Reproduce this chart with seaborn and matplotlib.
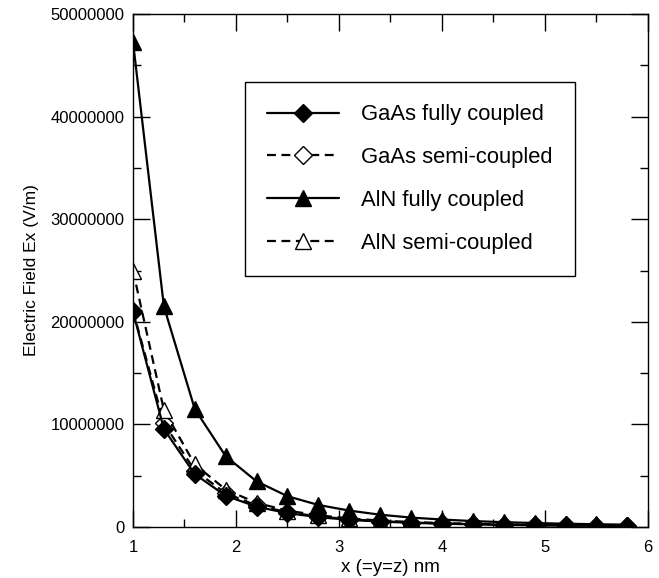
import numpy as np
import pandas as pd

import matplotlib
matplotlib.use('Agg')
import matplotlib.pyplot as plt
from matplotlib.ticker import MultipleLocator
import seaborn as sns

x_nm = [1.0, 1.3, 1.6, 1.9, 2.2, 2.5, 2.8, 3.1, 3.4, 3.7, 4.0, 4.3, 4.6, 4.9, 5.2, 5.5, 5.8]

gaas_full = [21.0, 9.55, 5.15, 3.05, 1.98, 1.35, 0.96, 0.70, 0.53, 0.41,
             0.32, 0.26, 0.21, 0.17, 0.14, 0.12, 0.10]
gaas_semi = [21.1, 10.1, 5.5, 3.3, 2.1, 1.45, 1.03, 0.76, 0.57, 0.44,
             0.35, 0.28, 0.22, 0.185, 0.155, 0.13, 0.11]
aln_full = [47.3, 21.5, 11.5, 6.9, 4.45, 3.0, 2.15, 1.6, 1.2, 0.92,
            0.73, 0.58, 0.47, 0.39, 0.32, 0.27, 0.23]
aln_semi = [25.0, 11.4, 6.1, 3.65, 2.35, 1.6, 1.14, 0.84, 0.63, 0.49,
            0.39, 0.31, 0.25, 0.20, 0.17, 0.14, 0.12]

labels = ['GaAs fully coupled', 'GaAs semi-coupled', 'AlN fully coupled', 'AlN semi-coupled']

sns.set_style('ticks')
plt.rcParams['font.family'] = ['Liberation Sans', 'DejaVu Sans']
plt.rcParams.update({
    'text.color': 'black',
    'axes.labelcolor': 'black',
    'xtick.color': 'black',
    'ytick.color': 'black',
})

df = pd.DataFrame({
    'x': x_nm,
    labels[0]: np.array(gaas_full) * 1e6,
    labels[1]: np.array(gaas_semi) * 1e6,
    labels[2]: np.array(aln_full) * 1e6,
    labels[3]: np.array(aln_semi) * 1e6,
})

fig = plt.figure(figsize=(6.59, 5.78), dpi=100)
ax = fig.add_axes([0.2018, 0.0882, 0.7815, 0.8875])

dash = (0, (4, 2.5))
styles = {
    labels[0]: dict(marker='D', markersize=9, markerfacecolor='black', linestyle='-'),
    labels[1]: dict(marker='D', markersize=9, markerfacecolor='white', linestyle=dash),
    labels[2]: dict(marker='^', markersize=11, markerfacecolor='black', linestyle='-'),
    labels[3]: dict(marker='^', markersize=11, markerfacecolor='white', linestyle=dash),
}

for name in [labels[1], labels[3], labels[0], labels[2]]:
    sns.lineplot(
        data=df,
        x='x',
        y=name,
        ax=ax,
        color='black',
        linewidth=1.6,
        markeredgecolor='black',
        markeredgewidth=1.0,
        label=name,
        **styles[name]
    )

ax.set_xlim(1, 6)
ax.set_ylim(0, 50000000)

ax.xaxis.set_major_locator(MultipleLocator(1))
ax.xaxis.set_minor_locator(MultipleLocator(0.5))
ax.yaxis.set_major_locator(MultipleLocator(10000000))
ax.yaxis.set_minor_locator(MultipleLocator(5000000))
ax.ticklabel_format(style='plain', axis='y', useOffset=False)

ax.tick_params(which='both', direction='in', top=True, right=True, width=1, colors='black', labelsize=12)
ax.tick_params(which='major', length=12, pad=6)
ax.tick_params(axis='x', which='major', pad=9)
ax.tick_params(which='minor', length=6)

for spine in ax.spines.values():
    spine.set_linewidth(1.0)
    spine.set_color('black')

ax.set_xlabel('x (=y=z) nm', fontsize=13.5, labelpad=3)
ax.set_ylabel('Electric Field Ex (V/m)', fontsize=12.5, labelpad=8)

handles, hlabels = ax.get_legend_handles_labels()
order = [hlabels.index(lbl) for lbl in labels]
leg = ax.legend(
    [handles[i] for i in order],
    [hlabels[i] for i in order],
    loc='upper left',
    bbox_to_anchor=(0.2175, 0.867),
    borderaxespad=0,
    fontsize=15.8,
    frameon=True,
    fancybox=False,
    edgecolor='black',
    framealpha=1,
    handlelength=3.3,
    handletextpad=1.0,
    labelspacing=1.0,
    borderpad=1.0,
)
leg.get_frame().set_linewidth(1.0)

plt.savefig('out.png', dpi=100)
plt.close()
